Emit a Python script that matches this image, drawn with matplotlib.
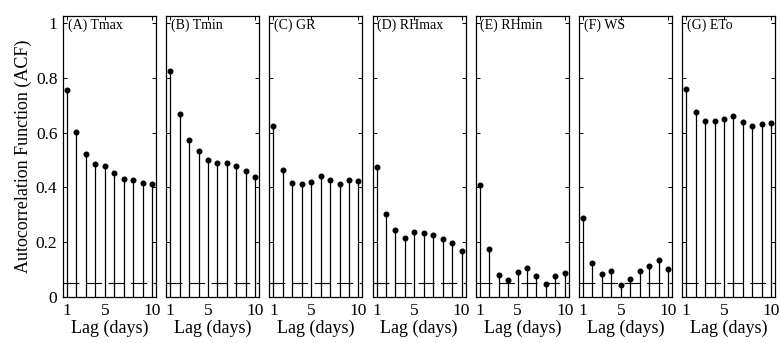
import numpy as np
import matplotlib.pyplot as plt

plt.rcParams['font.family'] = ['Liberation Serif', 'DejaVu Serif']
plt.rcParams['mathtext.fontset'] = 'stix'

# lags e valores de ACF
lags = np.arange(1, 11)
painel_nomes = ["(A) Tmax", "(B) Tmin", "(C) GR", "(D) RHmax", "(E) RHmin", "(F) WS", "(G) ETo"]

tmax = [0.756, 0.603, 0.523, 0.486, 0.477, 0.451, 0.431, 0.425, 0.415, 0.414]
tmin = [0.824, 0.669, 0.571, 0.531, 0.500, 0.489, 0.489, 0.477, 0.458, 0.437]
gr = [0.622, 0.464, 0.416, 0.412, 0.419, 0.443, 0.426, 0.412, 0.426, 0.422]
rhmax = [0.474, 0.304, 0.246, 0.217, 0.236, 0.235, 0.226, 0.210, 0.197, 0.167]
rhmin = [0.407, 0.175, 0.081, 0.063, 0.093, 0.105, 0.076, 0.048, 0.075, 0.087]
ws = [0.289, 0.125, 0.085, 0.094, 0.045, 0.066, 0.094, 0.113, 0.136, 0.102]
eto = [0.759, 0.674, 0.641, 0.641, 0.650, 0.660, 0.640, 0.624, 0.632, 0.633]

limite = 0.052  # limite de confianca

series = [tmax, tmin, gr, rhmax, rhmin, ws, eto]

fig = plt.figure(figsize=(7.8, 3.43), dpi=100)

W, H = 780, 343
esquerda0 = 63
passo = 103.2
largura = 93
base = 297
topo = 16

for i, (nome, vals) in enumerate(zip(painel_nomes, series)):
    x0 = esquerda0 + i * passo
    ax = fig.add_axes([x0 / W, (H - base) / H, largura / W, (base - topo) / H])
    ax.vlines(lags, 0, vals, color='black', linewidth=0.9)
    ax.plot(lags, vals, 'o', color='black', markersize=3.3)
    ax.axhline(limite, color='black', linewidth=0.8, linestyle=(0, (14.4, 5.9)))
    ax.set_xlim(0.58, 10.42)
    ax.set_ylim(0, 1.025)
    ax.set_xticks([1, 5, 10])
    ax.set_yticks([0, 0.2, 0.4, 0.6, 0.8, 1])
    ax.tick_params(direction='in', length=3, width=0.7, top=True, right=True,
                   labelsize=12.5, pad=4)
    if i == 0:
        ax.set_yticklabels(['0', '0.2', '0.4', '0.6', '0.8', '1'])
        ax.set_ylabel('Autocorrelation Function (ACF)', fontsize=13, labelpad=3)
    else:
        ax.set_yticklabels([])
    ax.set_xlabel('Lag (days)', fontsize=13, labelpad=1)
    for s in ax.spines.values():
        s.set_linewidth(0.9)
    ax.text(0.05, 0.99, nome, transform=ax.transAxes, ha='left', va='top', fontsize=10)

plt.savefig('out.png', dpi=100)
